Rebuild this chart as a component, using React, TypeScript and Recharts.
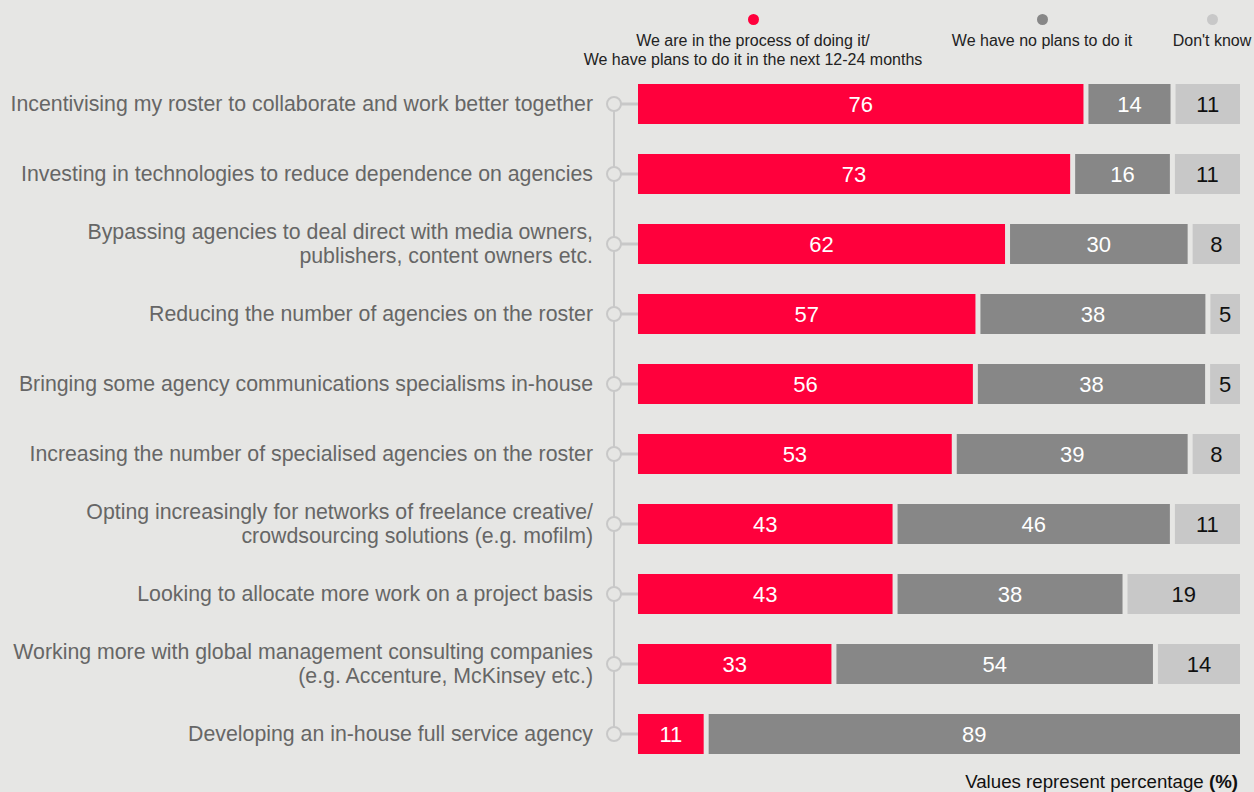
import React from "react";
import { BarChart, Bar, XAxis, YAxis } from "recharts";

const categories = [
  "Incentivising my roster to collaborate and work better together",
  "Investing in technologies to reduce dependence on agencies",
  "Bypassing agencies to deal direct with media owners,\npublishers, content owners etc.",
  "Reducing the number of agencies on the roster",
  "Bringing some agency communications specialisms in-house",
  "Increasing the number of specialised agencies on the roster",
  "Opting increasingly for networks of freelance creative/\ncrowdsourcing solutions (e.g. mofilm)",
  "Looking to allocate more work on a project basis",
  "Working more with global management consulting companies\n(e.g. Accenture, McKinsey etc.)",
  "Developing an in-house full service agency",
];
const inProcess = [76, 73, 62, 57, 56, 53, 43, 43, 33, 11];
const noPlans = [14, 16, 30, 38, 38, 39, 46, 38, 54, 89];
const dontKnow = [11, 11, 8, 5, 5, 8, 11, 19, 14, 0];

const seriesKeys = ["a", "b", "c"];
const seriesNames = [
  "We are in the process of doing it/\nWe have plans to do it in the next 12-24 months",
  "We have no plans to do it",
  "Don't know",
];
const colors = ["#ff003c", "#878787", "#c8c8c8"];
const labelColors = ["#ffffff", "#ffffff", "#111111"];

const data = categories.map((name, i) => ({
  name,
  a: inProcess[i],
  b: noPlans[i],
  c: dontKnow[i],
}));

const W = 1254;
const H = 792;
const BG = "#e6e6e4";
const MARGIN = { top: 69, right: 14, bottom: 23, left: 0 };
const YAXIS_W = 638;
const PLOT_L = MARGIN.left + YAXIS_W;
const PLOT_W = W - PLOT_L - MARGIN.right;
const PLOT_H = H - MARGIN.top - MARGIN.bottom;
const BAND = PLOT_H / categories.length;
const GAP = 5;
const AXIS_X = 614;
const FONT = "'Liberation Sans', Arial, sans-serif";

const makeShape = (keyIdx: number) => (props: any) => {
  const { x, y, width, height, payload } = props;
  const key = seriesKeys[keyIdx];
  const val = payload[key];
  if (!val) return <g />;
  const present = seriesKeys.filter((k) => payload[k] > 0);
  const n = present.length;
  const idx = present.indexOf(key);
  const f = (PLOT_W - (n - 1) * GAP) / PLOT_W;
  const nx = PLOT_L + (x - PLOT_L) * f + idx * GAP;
  const nw = width * f;
  return (
    <g>
      <rect x={nx} y={y} width={nw} height={height} fill={colors[keyIdx]} />
      <text
        x={nx + nw / 2}
        y={y + height / 2}
        textAnchor="middle"
        dominantBaseline="central"
        fontSize={22}
        fontFamily={FONT}
        fill={labelColors[keyIdx]}
      >
        {val}
      </text>
    </g>
  );
};

const YTick = (props: any) => {
  const { y, payload, index } = props;
  const lines = String(payload.value).split("\n");
  const lh = 24.5;
  const startY = y - ((lines.length - 1) * lh) / 2;
  const r = 7;
  return (
    <g>
      {index < categories.length - 1 && (
        <line x1={AXIS_X} x2={AXIS_X} y1={y + r} y2={y + BAND - r} stroke="#c8c8c8" strokeWidth={2} />
      )}
      <line x1={AXIS_X + r} x2={PLOT_L} y1={y} y2={y} stroke="#c8c8c8" strokeWidth={3} />
      <circle cx={AXIS_X} cy={y} r={r} fill={BG} stroke="#c8c8c8" strokeWidth={2} />
      <text textAnchor="end" fontSize={21.3} fontFamily={FONT} fill="#666666">
        {lines.map((l, i) => (
          <tspan key={i} x={593} y={startY + i * lh} dominantBaseline="central">
            {l}
          </tspan>
        ))}
      </text>
    </g>
  );
};

const legendPos = [753, 1042, 1212];

export default function App() {
  return (
    <div
      style={{
        position: "absolute",
        left: 0,
        top: 0,
        width: W,
        height: H,
        background: BG,
        fontFamily: FONT,
        overflow: "hidden",
      }}
    >
      <BarChart
        width={W}
        height={H}
        data={data}
        layout="vertical"
        stackOffset="expand"
        margin={MARGIN}
        barSize={40}
      >
        <XAxis type="number" hide />
        <YAxis
          type="category"
          dataKey="name"
          width={YAXIS_W}
          axisLine={false}
          tickLine={false}
          interval={0}
          tick={<YTick />}
        />
        {seriesKeys.map((k, i) => (
          <Bar
            key={k}
            dataKey={k}
            stackId="s"
            fill={colors[i]}
            isAnimationActive={false}
            shape={makeShape(i)}
          />
        ))}
      </BarChart>
      {seriesNames.map((nm, i) => (
        <div
          key={i}
          style={{
            position: "absolute",
            left: legendPos[i] - 200,
            width: 400,
            top: 12,
            textAlign: "center",
            fontSize: 16,
            lineHeight: "19px",
            color: "#222",
          }}
        >
          <div
            style={{
              width: 11,
              height: 11,
              borderRadius: "50%",
              background: colors[i],
              margin: "2px auto 0",
            }}
          />
          <div style={{ whiteSpace: "pre", marginTop: 6 }}>{nm}</div>
        </div>
      ))}
      <div
        style={{
          position: "absolute",
          right: 16,
          top: 771,
          fontSize: 18.7,
          color: "#111",
          whiteSpace: "nowrap",
        }}
      >
        Values represent percentage <b>(%)</b>
      </div>
    </div>
  );
}
